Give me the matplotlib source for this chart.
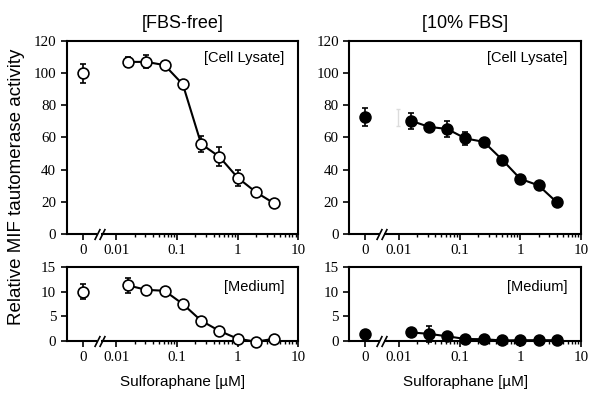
import matplotlib
matplotlib.use("Agg")
import matplotlib.pyplot as plt
import matplotlib.transforms as mtransforms
from matplotlib.ticker import FixedLocator, NullFormatter

# sulforaphane concentrations (uM); 0 = vehicle
conc = [0, 0.015625, 0.03125, 0.0625, 0.125, 0.25, 0.5, 1, 2, 4]

# FBS-free
free_lysate = [100, 107, 107, 105, 93, 56, 48, 35, 26, 19]
free_lysate_err = [6, 3, 4, 2.5, 0, 5, 6, 5, 2, 0]
free_medium = [10, 11.3, 10.4, 10.2, 7.5, 4.1, 2.0, 0.4, -0.2, 0.4]
free_medium_err = [1.5, 1.6, 0.3, 0.5, 0, 0.8, 0, 0, 0, 0]

# 10% FBS
fbs_lysate = [72.8, 70.5, 66.6, 65.3, 59.4, 57.3, 46.3, 34.3, 30.2, 19.7]
fbs_lysate_err = [5.5, 5, 1.2, 5, 4, 1.5, 1.5, 0, 0, 0]
fbs_medium = [1.4, 1.7, 1.4, 0.9, 0.35, 0.3, 0.05, 0.1, 0.1, 0.1]
fbs_medium_err = [0, 0, 1.6, 0, 0, 0, 0, 0, 0, 0]

# faint leftover error bar seen in the 10% FBS lysate panel
ghost_x = 0.0098
ghost_y = 72.5
ghost_err = 5.2

zero_pos = 0.0028      # where "0" sits on the log axis
break_pos = 0.0052
x_lo, x_hi = 0.00152, 10

plt.rcParams["font.family"] = ["Liberation Sans", "DejaVu Sans"]
serif = ["Liberation Serif", "DejaVu Serif"]

fig = plt.figure(figsize=(6.0, 4.03), dpi=100)
ax_w = 0.3863
ax_tl = fig.add_axes([0.111, 0.4194, ax_w, 0.4789])
ax_tr = fig.add_axes([0.582, 0.4194, ax_w, 0.4789])
ax_bl = fig.add_axes([0.111, 0.1546, ax_w, 0.1821])
ax_br = fig.add_axes([0.582, 0.1546, ax_w, 0.1821])

lw = 1.5


def draw(ax, y, yerr, filled):
    fc = "black" if filled else "white"
    xs = [zero_pos if c == 0 else c for c in conc]
    kw = dict(color="black", marker="o", markersize=7.8, markerfacecolor=fc,
              markeredgecolor="black", markeredgewidth=1.2, elinewidth=1.2,
              capsize=2.5, capthick=1.2, zorder=3, clip_on=False)
    ax.errorbar(xs[1:], y[1:], yerr=yerr[1:], linewidth=lw, **kw)
    ax.errorbar(xs[:1], y[:1], yerr=yerr[:1], linestyle="none", **kw)


def style(ax, ymax, ystep, label):
    ax.set_xscale("log")
    ax.set_xlim(x_lo, x_hi)
    ax.set_ylim(0, ymax)
    ax.set_yticks(range(0, ymax + 1, ystep))
    ax.xaxis.set_major_locator(FixedLocator([zero_pos, 0.01, 0.1, 1, 10]))
    ax.set_xticklabels(["0", "0.01", "0.1", "1", "10"])
    minors = [m * d for d in (0.01, 0.1, 1) for m in range(2, 10)]
    ax.xaxis.set_minor_locator(FixedLocator(minors))
    ax.xaxis.set_minor_formatter(NullFormatter())
    ax.tick_params(which="major", direction="out", length=4.5, width=1.2,
                   labelsize=10.8, pad=3)
    ax.tick_params(which="minor", direction="out", length=2.5, width=1.0)
    for lab in ax.get_xticklabels() + ax.get_yticklabels():
        lab.set_fontfamily(serif)
    for sp in ax.spines.values():
        sp.set_linewidth(1.5)
    ax.text(0.94, 0.91 if ymax > 20 else 0.735, label, transform=ax.transAxes,
            ha="right", va="center", fontsize=10.5)
    # axis break marks
    trans = ax.get_xaxis_transform()
    ax.plot([break_pos], [0], transform=trans, marker="s", markersize=3,
            color="white", markeredgewidth=0, clip_on=False, zorder=6)
    for dx in (-1.8, 1.8):
        t = mtransforms.offset_copy(trans, fig=fig, x=dx, y=0, units="points")
        ax.plot([break_pos], [0], transform=t, marker=[(-1, -2), (1, 2)],
                markersize=8, color="black", markeredgewidth=1.2,
                clip_on=False, zorder=7)


draw(ax_tl, free_lysate, free_lysate_err, False)
draw(ax_tr, fbs_lysate, fbs_lysate_err, True)
draw(ax_bl, free_medium, free_medium_err, False)
draw(ax_br, fbs_medium, fbs_medium_err, True)
ax_tr.errorbar([ghost_x], [ghost_y], yerr=[ghost_err], color="#dcdcdc",
               elinewidth=1.0, capsize=1.5, capthick=1.0, linestyle="none")

style(ax_tl, 120, 20, "[Cell Lysate]")
style(ax_tr, 120, 20, "[Cell Lysate]")
style(ax_bl, 15, 5, "[Medium]")
style(ax_br, 15, 5, "[Medium]")

ax_tl.set_title("[FBS-free]", fontsize=13, pad=9)
ax_tr.set_title("[10% FBS]", fontsize=13, pad=9)
for ax in (ax_bl, ax_br):
    ax.set_xlabel("Sulforaphane [µM]", fontsize=11, labelpad=8)

fig.text(0.027, 0.536, "Relative MIF tautomerase activity", rotation=90,
         ha="center", va="center", fontsize=13.5)

fig.savefig("out.png", dpi=100)
